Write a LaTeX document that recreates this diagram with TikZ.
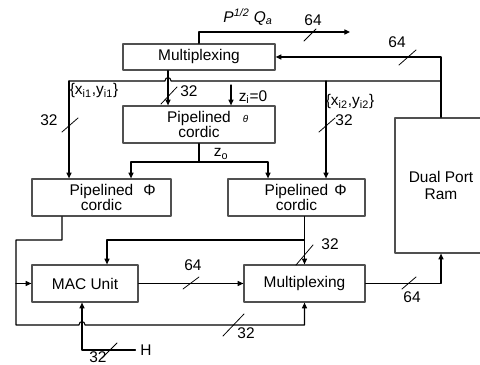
\documentclass[tikz,border=0pt]{standalone}
\usepackage{fontspec}
\setmainfont{Liberation Sans}
\usetikzlibrary{arrows.meta}
\definecolor{BoxGray}{HTML}{505050}

\begin{document}
\begin{tikzpicture}[x=0.025cm,y=-0.025cm,line cap=round,line join=round,font=\fontsize{11}{12}\selectfont,
  blk/.style={draw=BoxGray,line width=0.9pt,inner sep=0pt,align=center},
  wire/.style={line width=0.75pt},
  arr/.style={wire,-{Triangle[length=4pt,width=3.6pt]}},
  busmark/.style={line width=0.55pt},
  lbl/.style={inner sep=0pt}]
  \clip (0,0) rectangle (480,365);
  % blocks
  \node[blk,minimum width=3.8cm,minimum height=0.65cm] (muxtop) at (199,57) {Multiplexing};
  \node[blk,minimum width=3.8cm,minimum height=0.925cm] (thcordic) at (199,124.5) {Pipelined\rlap{\hspace{3mm}\scriptsize\itshape θ}\\[-2pt]cordic};
  \node[blk,minimum width=3.475cm,minimum height=0.925cm] (phileft) at (101.5,197.5) {Pipelined\rlap{\hspace{2.5mm}Φ}\\[-2pt]cordic};
  \node[blk,minimum width=3.425cm,minimum height=0.925cm] (phiright) at (296.5,197.5) {Pipelined\rlap{\hspace{1.5mm}Φ}\\[-2pt]cordic};
  \node[blk,minimum width=2.65cm,minimum height=0.925cm] (mac) at (85,283.5) {MAC Unit};
  \node[blk,minimum width=3.025cm,minimum height=0.925cm] (muxbot) at (304.5,283.5) {Multiplexing};
  \node[blk,minimum width=2.3cm,minimum height=3.375cm] (ram) at (441,185.5) {Dual Port\\Ram};
  \node (hin) at (146,350) {H};
  % helper coordinates
  \coordinate (qout) at (350,32);\coordinate (dl) at (168,0);\coordinate (zin) at (231,85);
  \coordinate (ramtap) at (441,81);\coordinate (xyl) at (69,81);\coordinate (xyr) at (326,81);
  \coordinate (zsplit) at (199,162);\coordinate (zl) at (131,0);\coordinate (zr) at (268,0);
  \coordinate (ol) at (62,0);\coordinate (loopa) at (62,240);\coordinate (loopb) at (16,240);\coordinate (loopc) at (16,325);
  \coordinate (mactap) at (16,283.5);\coordinate (macfb) at (304.5,240);\coordinate (mt) at (107,0);\coordinate (hx) at (82,0);
  % top part
  \draw[arr] (muxtop.north) |- (qout);
  \draw[arr] (ram.north) |- (muxtop.east);
  \draw[wire] (ramtap) -- (171,81) .. controls (171,76.5) and (165,76.5) .. (165,81) -- (xyl);
  \draw[arr] (xyl) -- (xyl |- phileft.north);
  \draw[arr] (xyr) -- (xyr |- phiright.north);
  \draw[arr] (muxtop.south -| dl) -- (thcordic.north -| dl);
  \draw[arr] (zin) -- (zin |- thcordic.north);
  \draw[wire] (thcordic.south) -- (zsplit);
  \draw[arr] (zsplit) -| (phileft.north -| zl);
  \draw[arr] (zsplit) -| (phiright.north -| zr);
  % bottom part
  \draw[arr] (phileft.south -| ol) -- (loopa) -- (loopb) -- (loopc) -- (79,325) .. controls (79,320.5) and (85,320.5) .. (85,325) -| (muxbot.south);
  \draw[arr] (mactap) -- (mac.west);
  \draw[arr] (phiright.south -| muxbot.north) -- (muxbot.north);
  \draw[arr] (macfb) -| (mac.north -| mt);
  \draw[arr] (mac.east) -- (muxbot.west);
  \draw[arr] (muxbot.east) -| (ram.south);
  \draw[arr] (hin.west) -| (mac.south -| hx);
  % bus width marks
  \draw[busmark] (304,41)--(316,29) (399,65)--(416,50) (161,104)--(177,87) (62,132)--(78,118) (319,132)--(335,118);
  \draw[busmark] (296,265)--(313,245) (183,289)--(199,277) (402,289)--(416,277) (223,336)--(244,314) (102,358)--(117,343);
  % labels
  \node[lbl] (lq) at (248,17) {\textit{P}\textsuperscript{\textit{1/2}} \textit{Q}\textsubscript{\textit{a}}};
  \node[lbl] (w1) at (313,20) {64};\node[lbl] (w2) at (397,42) {64};\node[lbl] (w3) at (189,91) {32};
  \node[lbl] (w4) at (49,120) {32};\node[lbl] (w5) at (344,120) {32};\node[lbl] (w6) at (330,244) {32};
  \node[lbl] (w7) at (193,265) {64};\node[lbl] (w8) at (412,297) {64};\node[lbl] (w9) at (246,333) {32};\node[lbl] (w10) at (98,357) {32};
  \node[lbl] (xy1) at (94,91) {\{x\textsubscript{i1},y\textsubscript{i1}\}};
  \node[lbl] (xy2) at (350,102) {\{x\textsubscript{i2},y\textsubscript{i2}\}};
  \node[lbl] (zi) at (253,97) {z\textsubscript{i}=0};
  \node[lbl] (zo) at (221,154) {z\textsubscript{o}};
\end{tikzpicture}
\end{document}
